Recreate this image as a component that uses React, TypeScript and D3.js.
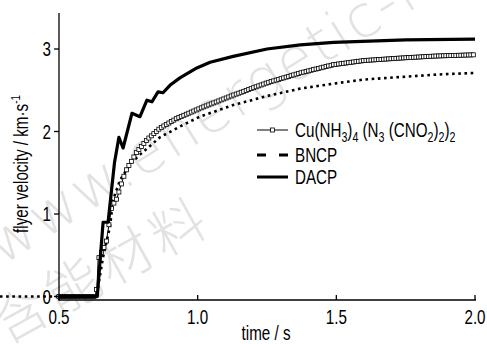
import React, { useEffect, useRef } from 'react'
import * as d3 from 'd3'

// time (s) / flyer velocity (km/s)
const dacpT = [0.5, 0.638, 0.659, 0.677, 0.7, 0.716, 0.731, 0.763, 0.792, 0.817, 0.835, 0.857, 0.875, 0.9, 0.936, 0.997, 1.045, 1.128, 1.25, 1.37, 1.49, 1.75, 2.0]
const dacpV = [0, 0, 0.9, 0.9, 1.62, 1.93, 1.8, 2.22, 2.18, 2.38, 2.36, 2.48, 2.47, 2.56, 2.65, 2.77, 2.84, 2.91, 3.0, 3.05, 3.08, 3.11, 3.12]

const cuT = [0.5, 0.63, 0.637, 0.641, 0.67, 0.69, 0.709, 0.731, 0.742, 0.763, 0.78, 0.817, 0.864, 0.925, 1.008, 1.128, 1.25, 1.37, 1.49, 1.6, 1.73, 1.86, 2.0]
const cuV = [0, 0, 0.12, 0.45, 0.65, 1.09, 1.19, 1.43, 1.53, 1.65, 1.75, 1.9, 2.04, 2.16, 2.28, 2.44, 2.59, 2.71, 2.81, 2.86, 2.89, 2.915, 2.93]

const bncpT = [0.287, 0.635, 0.659, 0.684, 0.695, 0.72, 0.76, 0.792, 0.83, 0.864, 0.936, 1.008, 1.128, 1.25, 1.37, 1.49, 1.6, 1.73, 1.86, 2.0]
const bncpV = [0, 0, 0.48, 0.85, 1.17, 1.41, 1.62, 1.72, 1.83, 1.93, 2.06, 2.18, 2.32, 2.43, 2.52, 2.58, 2.63, 2.66, 2.69, 2.71]

const xTicks = [0.5, 1.0, 1.5, 2.0]
const yTicks = [0, 1, 2, 3]
const legendLabels = ['Cu', 'BNCP', 'DACP']

const FONT = "'Liberation Sans', Arial, sans-serif"
const SQ = 0.76 // the original font is a narrow one, squeeze Liberation Sans to match

export default function App() {
    const svgRef = useRef<SVGSVGElement>(null)
    const width = 487
    const height = 344

    useEffect(() => {
        if (!svgRef.current) return
        const svg = d3.select(svgRef.current)
        svg.selectAll("*").remove()

        const x = d3.scaleLinear().domain([0.5, 2.0]).range([59, 475])
        const y = d3.scaleLinear().domain([0, 3]).range([296.5, 49])

        // watermark
        const wm = svg.append("g").attr("fill", "#e2e2e2").attr("font-family", "'DejaVu Sans', sans-serif")
        wm.append("text")
            .attr("transform", "translate(2,266) rotate(-32)")
            .attr("font-size", 58).attr("font-weight", 200)
            .attr("letter-spacing", 2)
            .text("www.energetic-materials.org.cn")
        wm.append("text")
            .attr("transform", "translate(6,345) rotate(-29)")
            .attr("font-size", 54)
            .attr("font-family", "'Noto Sans CJK SC', sans-serif")
            .attr("font-weight", 300)
            .attr("letter-spacing", 6)
            .text("含能材料")

        const line = (ts: number[], vs: number[]) =>
            d3.line<number>().x((_, i) => x(ts[i])).y((v) => y(v))(vs) as string

        // BNCP dotted
        svg.append("path")
            .attr("d", line(bncpT, bncpV))
            .attr("fill", "none").attr("stroke", "#000")
            .attr("stroke-width", 2.6).attr("stroke-dasharray", "2.6 3.6")

        // Cu complex: thin line with open square markers
        svg.append("path")
            .attr("d", line(cuT, cuV))
            .attr("fill", "none").attr("stroke", "#000").attr("stroke-width", 1)
        // markers placed at an even time step along the drawn line
        const cuAt = d3.scaleLinear().domain(cuT).range(cuV)
        const markT = d3.range(0.5, 2.0001, 0.009)
        svg.append("g").selectAll("rect")
            .data(markT)
            .enter().append("rect")
            .attr("x", d => x(d) - 2).attr("y", d => y(cuAt(d)) - 2)
            .attr("width", 4).attr("height", 4)
            .attr("fill", "#fff").attr("stroke", "#000").attr("stroke-width", 0.8)

        // DACP thick solid
        svg.append("path")
            .attr("d", line(dacpT, dacpV))
            .attr("fill", "none").attr("stroke", "#000")
            .attr("stroke-width", 3.2).attr("stroke-linejoin", "round")

        // axes
        const ax = svg.append("g").attr("stroke", "#000").attr("stroke-width", 1.3)
        ax.append("line").attr("x1", 59).attr("x2", 59).attr("y1", 13).attr("y2", 300.5)
        ax.append("line").attr("x1", 58.5).attr("x2", 476).attr("y1", 300).attr("y2", 300)
        ax.selectAll(".yt").data(yTicks).enter().append("line")
            .attr("x1", 54).attr("x2", 59).attr("y1", d => y(d)).attr("y2", d => y(d))
        ax.selectAll(".xt").data(xTicks).enter().append("line")
            .attr("x1", d => x(d)).attr("x2", d => x(d)).attr("y1", 300).attr("y2", 295)

        const txt = svg.append("g").attr("font-family", FONT).attr("font-size", 20).attr("fill", "#000")
        const put = (px: number, py: number, rot = 0) => `translate(${px},${py}) rotate(${rot}) scale(${SQ},1)`

        txt.selectAll(".yl").data(yTicks).enter().append("text")
            .attr("transform", d => put(51, y(d))).attr("dy", "0.35em")
            .attr("text-anchor", "end").text(d => d3.format("d")(d))
        txt.selectAll(".xl").data(xTicks).enter().append("text")
            .attr("transform", d => put(x(d), 324))
            .attr("text-anchor", "middle").text(d => d3.format(".1f")(d))

        txt.append("text").attr("transform", put(266, 340)).attr("text-anchor", "middle").text("time / s")

        const yl = txt.append("text")
            .attr("transform", put(28, 164, -90))
            .attr("text-anchor", "middle")
        yl.append("tspan").text("flyer velocity / km·s")
        yl.append("tspan").attr("font-size", 13).attr("dy", -8).text("-1")

        // legend
        const lx = 257, rows = [130, 155, 177]
        const lg = svg.append("g")
        lg.append("line").attr("x1", lx).attr("x2", lx + 31).attr("y1", rows[0]).attr("y2", rows[0])
            .attr("stroke", "#000").attr("stroke-width", 1)
        lg.append("rect").attr("x", lx + 13.5).attr("y", rows[0] - 2).attr("width", 4).attr("height", 4)
            .attr("fill", "#fff").attr("stroke", "#000").attr("stroke-width", 0.8)
        lg.append("line").attr("x1", lx).attr("x2", lx + 31).attr("y1", rows[1]).attr("y2", rows[1])
            .attr("stroke", "#000").attr("stroke-width", 3).attr("stroke-dasharray", "9 13")
        lg.append("line").attr("x1", lx).attr("x2", lx + 31).attr("y1", rows[2]).attr("y2", rows[2])
            .attr("stroke", "#000").attr("stroke-width", 3)

        const cu = txt.append("text").attr("transform", put(295, rows[0] + 7))
        const parts: [string, boolean][] = [["Cu(NH", false], ["3", true], [")", false], ["4", true], [" (N", false], ["3", true], [" (CNO", false], ["2", true], [")", false], ["2", true], [")", false], ["2", true]]
        let sub = false
        parts.forEach(([s, isSub]) => {
            const t = cu.append("tspan").text(s)
            if (isSub) t.attr("font-size", 14)
            if (isSub && !sub) t.attr("dy", 5)
            if (!isSub && sub) t.attr("dy", -5)
            sub = isSub
        })
        txt.append("text").attr("transform", put(295, rows[1] + 7)).text(legendLabels[1])
        txt.append("text").attr("transform", put(295, rows[2] + 7)).text(legendLabels[2])
    }, [])

    return (
        <svg ref={svgRef} width={width} height={height} viewBox={`0 0 ${width} ${height}`}
            style={{ position: 'absolute', left: 0, top: 0, background: '#fff' }} />
    )
}
